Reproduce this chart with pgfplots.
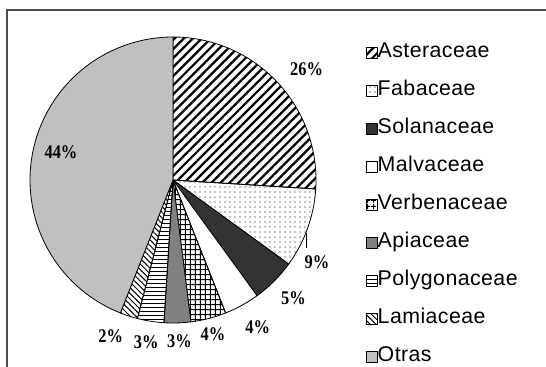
\documentclass[border=0pt]{standalone}
\usepackage{fontspec}
\setmainfont{Liberation Sans}
\newfontfamily\legfont[LetterSpace=2]{Liberation Sans}
\newfontfamily\lserif{Liberation Serif}
\usepackage{graphicx}
\usepackage{pgfplots}
\pgfplotsset{compat=1.18}
\usetikzlibrary{patterns.meta}

\def\cx{173}\def\cy{180}\def\rr{143}
\gdef\cum{0}
% #1 = percentage, #2 = style, #3 = legend name
\newcommand{\pieslice}[3]{%
  \pgfmathsetmacro\sa{90-3.6*\cum}%
  \pgfmathsetmacro\sb{90-3.6*(\cum+#1)}%
  \pgfmathsetmacro\newcum{\cum+#1}%
  \xdef\cum{\newcum}%
  \edef\temp{\noexpand\addplot[#2, draw=black, line width=0.6pt, line join=round, domain=\sa:\sb, samples=80]}%
  \temp ({\cx+\rr*cos(x)},{\cy-\rr*sin(x)}) -- (axis cs:\cx,\cy) -- cycle;
  \addlegendentry{\legfont\fontsize{16}{16}\selectfont #3}%
}
\newcommand{\pct}[1]{\scalebox{0.85}[1]{\lserif\bfseries\fontsize{14.5}{14.5}\selectfont #1}}

\begin{document}
\begin{tikzpicture}
\begin{axis}[
  x=0.75pt, y=0.75pt, y dir=reverse,
  xmin=0, xmax=546, ymin=0, ymax=367,
  scale only axis, hide axis, clip=false,
  legend style={at={(axis cs:366,43)}, anchor=north west, draw=none, fill=none,
    row sep=14pt, inner sep=0pt,
    nodes={inner sep=0pt, text height=11pt, text depth=3.5pt}},
  legend cell align=left,
  legend image code/.code={\draw[#1, line width=0.6pt] (0pt,-4pt) rectangle (8pt,4pt);},
]
\draw[line width=1pt, color=black!70] (axis cs:7,367) |- (axis cs:546,10);

\pieslice{26}{pattern={Lines[angle=45,distance=4.8pt,line width=1.7pt]}}{Asteraceae}
\pieslice{9}{pattern={Dots[distance=3.75pt,radius=0.55pt]}}{Fabaceae}
\pieslice{5}{fill={rgb,255:red,51;green,51;blue,51}}{Solanaceae}
\pieslice{4}{fill=white}{Malvaceae}
\pieslice{4}{pattern={Hatch[angle=0,distance=4pt,line width=0.8pt]}}{Verbenaceae}
\pieslice{3}{fill={rgb,255:red,128;green,128;blue,128}}{Apiaceae}
\pieslice{3}{pattern={Lines[angle=0,distance=3pt,line width=0.7pt]}}{Polygonaceae}
\pieslice{2}{pattern={Lines[angle=-45,distance=3pt,line width=0.75pt]}}{Lamiaceae}
\pieslice{44}{fill={rgb,255:red,192;green,192;blue,192}}{Otras}

\draw[line width=0.8pt] (axis cs:306.6,233) -- (axis cs:306.6,248);

\node at (axis cs:306.6,69) {\pct{26\%}};
\node at (axis cs:317,262) {\pct{9\%}};
\node at (axis cs:293.4,298) {\pct{5\%}};
\node at (axis cs:257.8,327) {\pct{4\%}};
\node at (axis cs:213,334) {\pct{4\%}};
\node at (axis cs:179.4,341) {\pct{3\%}};
\node at (axis cs:146.3,342) {\pct{3\%}};
\node at (axis cs:110.8,336) {\pct{2\%}};
\node at (axis cs:61,152) {\pct{44\%}};
\end{axis}
\pgfresetboundingbox
\path (current axis.south west) rectangle (current axis.north east);
\end{tikzpicture}
\end{document}
